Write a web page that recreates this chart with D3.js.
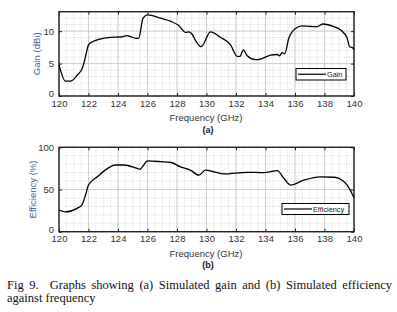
<!DOCTYPE html>
<html>
<head>
<meta charset="utf-8">
<script src="https://cdn.jsdelivr.net/npm/d3@7"></script>
<style>
  body { margin: 0; background: #fff; }
  svg { display: block; }
  .tick text { font-family: "Liberation Sans", Arial, sans-serif; font-size: 9.5px; fill: #333; }
</style>
</head>
<body>
<div id="graph"></div>
<script>
// gain (dBi) vs frequency (GHz)
const gainFreq = [120, 120.44, 120.78, 121.23, 121.6, 121.8, 122.0, 122.3, 122.7, 123.5, 124.2, 124.6, 124.9, 125.2, 125.4, 125.7, 126.0, 126.9, 127.6, 128.1, 128.6, 128.8, 129.0, 129.3, 129.64, 130.27, 130.95, 131.63, 132.08, 132.26, 132.5, 132.76, 133.3, 133.66, 134.34, 134.8, 134.95, 135.13, 135.3, 135.58, 136.03, 136.5, 137.5, 137.9, 138.63, 139.08, 139.54, 139.7, 139.88, 140];
const gainVals = [4.8, 2.3, 2.3, 3.2, 4.4, 6.1, 7.9, 8.4, 8.75, 9.05, 9.1, 9.3, 9.1, 8.9, 8.9, 12.0, 12.5, 12.0, 11.5, 10.9, 9.8, 9.9, 9.6, 8.4, 7.6, 9.9, 9.05, 7.9, 6.1, 6.1, 7.1, 6.2, 5.6, 5.7, 6.3, 6.4, 6.2, 6.7, 6.5, 8.9, 10.4, 10.8, 10.7, 11.1, 10.7, 10.2, 8.9, 7.6, 7.5, 7.1];

// efficiency (%) vs frequency (GHz)
const effFreq = [120, 120.44, 121.23, 121.55, 121.8, 122.0, 122.6, 123.3, 123.8, 124.4, 125.3, 125.5, 125.7, 126.0, 126.9, 127.6, 128.2, 128.9, 129.48, 129.93, 130.5, 131.17, 132.76, 133.9, 134.8, 135.25, 135.7, 136.6, 137.7, 138.7, 139.2, 139.54, 139.8, 140];
const effVals = [25.7, 23.5, 27.7, 31.6, 43.5, 55.3, 65, 75, 79, 79, 75, 74, 78, 83.8, 83, 82, 77, 73, 67, 73, 71, 68.4, 70.4, 70, 72.3, 63, 55.3, 61, 65, 64.5, 61, 55.3, 47.4, 40.3];

const freqTicks = [120, 122, 124, 126, 128, 130, 132, 134, 136, 138, 140];
const gainTicks = [0, 5, 10];
const effTicks = [0, 50, 100];

const W = 397, H = 312;
const svg = d3.select("#graph").append("svg").attr("width", W).attr("height", H);

function drawPanel(opt) {
  const x = d3.scaleLinear().domain([120, 140]).range([59, 354]);
  const y = d3.scaleLinear().domain(opt.yDomain).range([opt.bottom, opt.top]);
  const g = svg.append("g");

  // minor dotted grid
  g.append("g").selectAll("line").data(d3.range(120, 140.01, 0.5))
    .join("line")
    .attr("x1", d => x(d)).attr("x2", d => x(d))
    .attr("y1", opt.top).attr("y2", opt.bottom)
    .attr("stroke", "#bbb").attr("stroke-width", 0.6).attr("stroke-dasharray", "1,1.5");
  g.append("g").selectAll("line").data(d3.range(opt.yDomain[0], opt.yDomain[1] + 0.01, opt.minorStep))
    .join("line")
    .attr("x1", 59).attr("x2", 354)
    .attr("y1", d => y(d)).attr("y2", d => y(d))
    .attr("stroke", "#bbb").attr("stroke-width", 0.6).attr("stroke-dasharray", "1,1.5");

  // major grid
  g.append("g").selectAll("line").data(freqTicks)
    .join("line")
    .attr("x1", d => x(d)).attr("x2", d => x(d))
    .attr("y1", opt.top).attr("y2", opt.bottom)
    .attr("stroke", "#ccc").attr("stroke-width", 0.9);
  g.append("g").selectAll("line").data(opt.yTicks)
    .join("line")
    .attr("x1", 59).attr("x2", 354)
    .attr("y1", d => y(d)).attr("y2", d => y(d))
    .attr("stroke", "#ccc").attr("stroke-width", 0.9);

  // axes with inward ticks
  const bottomAxis = d3.axisBottom(x).tickValues(freqTicks).tickSizeInner(-3).tickSizeOuter(0).tickPadding(4);
  const leftAxis = d3.axisLeft(y).tickValues(opt.yTicks).tickSizeInner(-3).tickSizeOuter(0).tickPadding(5);
  const ba = g.append("g").attr("transform", `translate(0,${opt.bottom})`).call(bottomAxis);
  const la = g.append("g").attr("transform", "translate(59,0)").call(leftAxis);
  const ta = g.append("g").attr("transform", `translate(0,${opt.top})`)
    .call(d3.axisTop(x).tickValues(freqTicks).tickSizeInner(-3).tickSizeOuter(0).tickFormat(""));
  const ra = g.append("g").attr("transform", "translate(354,0)")
    .call(d3.axisRight(y).tickValues(opt.yTicks).tickSizeInner(-3).tickSizeOuter(0).tickFormat(""));
  [ba, la, ta, ra].forEach(a => {
    a.select(".domain").remove();
    a.selectAll(".tick line").attr("stroke", "#222").attr("stroke-width", 1);
  });
  // lift the zero label a little so it clears the first x label
  la.selectAll(".tick text").filter(d => d === 0).attr("dy", "0.1em");

  // frame
  g.append("rect").attr("x", 59).attr("y", opt.top)
    .attr("width", 295).attr("height", opt.bottom - opt.top)
    .attr("fill", "none").attr("stroke", "#222").attr("stroke-width", 1.4);

  // data line
  const pts = opt.xs.map((f, i) => [f, opt.ys[i]]);
  g.append("path").datum(pts)
    .attr("d", d3.line().x(d => x(d[0])).y(d => y(d[1])).curve(d3.curveMonotoneX))
    .attr("fill", "none").attr("stroke", "#000").attr("stroke-width", 1.3);

  // legend
  const lg = opt.legend;
  g.append("rect").attr("x", lg.x).attr("y", lg.y).attr("width", lg.w).attr("height", lg.h)
    .attr("fill", "#fff").attr("stroke", "#000").attr("stroke-width", 1);
  g.append("line").attr("x1", lg.x + 2).attr("x2", lg.x + lg.lineW)
    .attr("y1", lg.y + lg.h / 2).attr("y2", lg.y + lg.h / 2)
    .attr("stroke", "#000").attr("stroke-width", 1.2);
  g.append("text").attr("x", lg.x + lg.lineW + 1).attr("y", lg.y + lg.h / 2 + 2.6)
    .attr("font-family", "Liberation Sans, Arial, sans-serif").attr("font-size", 7.3).attr("fill", "#222")
    .text(opt.name);

  // axis titles
  g.append("text")
    .attr("transform", `translate(${opt.yLabelX},${(opt.top + opt.bottom) / 2}) rotate(-90)`)
    .attr("text-anchor", "middle")
    .attr("font-family", "Liberation Sans, Arial, sans-serif").attr("font-size", 9.5).attr("fill", "#4a6597")
    .text(opt.yLabel);
  g.append("text").attr("x", 206).attr("y", opt.bottom + 25)
    .attr("text-anchor", "middle")
    .attr("font-family", "Liberation Sans, Arial, sans-serif").attr("font-size", 9.5).attr("fill", "#333")
    .text("Frequency (GHz)");
  g.append("text").attr("x", 208).attr("y", opt.bottom + 36.5)
    .attr("text-anchor", "middle")
    .attr("font-family", "Liberation Sans, Arial, sans-serif").attr("font-size", 9).attr("font-weight", "bold").attr("fill", "#222")
    .text(opt.tag);
}

drawPanel({
  top: 11.7, bottom: 96, yDomain: [0, 13], yTicks: gainTicks, minorStep: 1,
  xs: gainFreq, ys: gainVals, name: "Gain", yLabel: "Gain (dBi)", yLabelX: 40, tag: "(a)",
  legend: { x: 296, y: 68.5, w: 50, h: 11.5, lineW: 30 }
});
drawPanel({
  top: 147.3, bottom: 231.7, yDomain: [0, 100], yTicks: effTicks, minorStep: 10,
  xs: effFreq, ys: effVals, name: "Efficiency", yLabelX: 36, yLabel: "Efficiency (%)", tag: "(b)",
  legend: { x: 282, y: 203.5, w: 67, h: 11, lineW: 30 }
});

// caption, first line justified by widening the word gaps
const cap = svg.append("g")
  .attr("font-family", "Liberation Serif, Times New Roman, serif").attr("font-size", 12.5).attr("fill", "#111");
const line1 = cap.append("text").attr("x", 7).attr("y", 288.5)
  .attr("xml:space", "preserve")
  .text("Fig 9.  Graphs showing (a) Simulated gain and (b) Simulated efficiency");
const natural = line1.node().getComputedTextLength();
const gaps = line1.text().split(" ").length - 1;
line1.attr("word-spacing", Math.max(0, (385 - natural) / gaps));
cap.append("text").attr("x", 7).attr("y", 301.5).text("against frequency");
</script>
</body>
</html>
